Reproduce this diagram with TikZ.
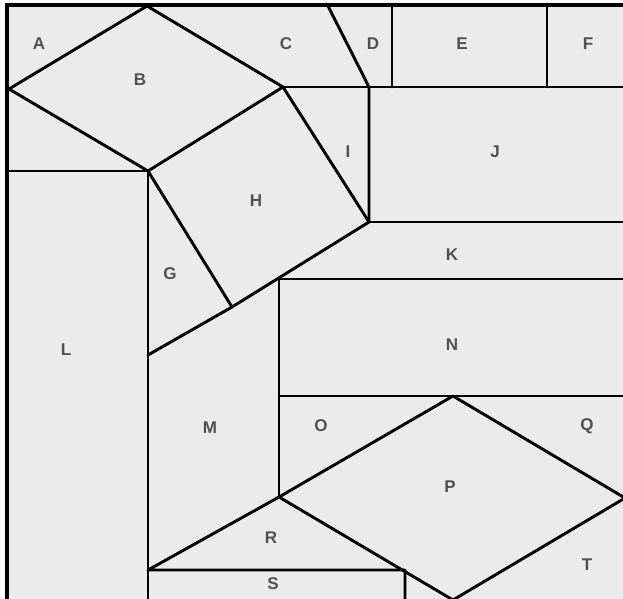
\documentclass[tikz,border=0pt]{standalone}
\usepackage{fontspec}
\setmainfont{Liberation Sans}
\definecolor{tile}{HTML}{EBEBEB}
\definecolor{letter}{HTML}{505050}
\tikzset{
  frame/.style={draw=black,fill=tile,line width=3.5pt},
  cut/.style={draw=black,line width=2.9pt,line cap=round,line join=round},
  tag/.style={font=\fontsize{17}{17}\selectfont\bfseries,text=letter,inner sep=0pt}
}

\begin{document}
\begin{tikzpicture}[x=1pt,y=-1pt]
  \useasboundingbox (0,0) rectangle (623,598);
  \clip (0,0) rectangle (623,598);
  \fill[white] (0,0) rectangle (623,598);
  \path[frame] (7,5) rectangle (640,620);

  % corners of the pieces
  \coordinate (btop) at (147,6);
  \coordinate (bleft) at (9,89);
  \coordinate (bbot) at (148,171);
  \coordinate (bright) at (283,87);
  \coordinate (hright) at (369,222);
  \coordinate (hbot) at (232,307);
  \coordinate (gbot) at (148,355);
  \coordinate (ptop) at (453,396);
  \coordinate (pleft) at (279,497);
  \coordinate (pright) at (625,498);
  \coordinate (pbot) at (453,600);
  \coordinate (rbot) at (148,570);

  % top row
  \draw[cut] (btop) -- (bleft) -- (bbot) -- (bright) -- cycle;
  \draw[cut] (bright) -- (625,87);
  \draw[cut] (327,4) -- (369,87) -- (hright);
  \draw[cut] (392,4) -- (392,87);
  \draw[cut] (547,4) -- (547,87);
  \draw[cut] (7,171) -- (bbot) -- (148,600);

  % square H and the band below it
  \draw[cut] (bbot) -- (hbot) -- (hright) -- (bright);
  \draw[cut] (hbot) -- (gbot);
  \draw[cut] (hright) -- (625,222);
  \draw[cut] (279,279) -- (625,279);
  \draw[cut] (279,279) -- (pleft);
  \draw[cut] (279,396) -- (625,396);

  % diamond P and the bottom strip
  \draw[cut] (ptop) -- (pleft) -- (pbot) -- (pright) -- cycle;
  \draw[cut] (pleft) -- (rbot) -- (405,570) -- (405,600);

  \node[tag] (A) at (39,44) {A};
  \node[tag] (B) at (140,80) {B};
  \node[tag] (C) at (286,44) {C};
  \node[tag] (D) at (373,44) {D};
  \node[tag] (E) at (462,44) {E};
  \node[tag] (F) at (588,44) {F};
  \node[tag] (I) at (348,152) {I};
  \node[tag] (J) at (495,152) {J};
  \node[tag] (H) at (256,201) {H};
  \node[tag] (G) at (170,274) {G};
  \node[tag] (K) at (452,255) {K};
  \node[tag] (L) at (66,350) {L};
  \node[tag] (N) at (452,345) {N};
  \node[tag] (M) at (210,428) {M};
  \node[tag] (O) at (321,426) {O};
  \node[tag] (Q) at (587,426) {Q};
  \node[tag] (P) at (450,487) {P};
  \node[tag] (R) at (271,538) {R};
  \node[tag] (S) at (273,584) {S};
  \node[tag] (T) at (587,565) {T};
\end{tikzpicture}
\end{document}
